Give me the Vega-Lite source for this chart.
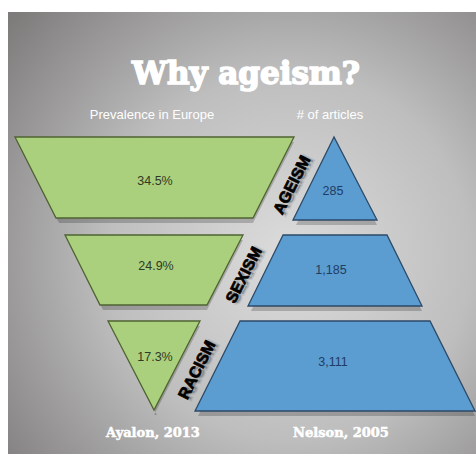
{
  "$schema": "https://vega.github.io/schema/vega-lite/v6.json",
  "width": 468,
  "height": 442,
  "padding": {"left": 8, "top": 12, "right": 0, "bottom": 0},
  "autosize": "none",
  "background": "white",
  "config": {"view": {"stroke": null}},
  "datasets": {
    "shapes": [
      {"shape": "Ageism prevalence", "panel": "Prevalence in Europe", "y": 137, "xl": 15, "xr": 294},
      {"shape": "Ageism prevalence", "panel": "Prevalence in Europe", "y": 218, "xl": 56, "xr": 253},
      {"shape": "Sexism prevalence", "panel": "Prevalence in Europe", "y": 235, "xl": 65, "xr": 243},
      {"shape": "Sexism prevalence", "panel": "Prevalence in Europe", "y": 305, "xl": 100, "xr": 207},
      {"shape": "Racism prevalence", "panel": "Prevalence in Europe", "y": 321, "xl": 108, "xr": 200},
      {"shape": "Racism prevalence", "panel": "Prevalence in Europe", "y": 410, "xl": 154, "xr": 154},
      {"shape": "Ageism articles", "panel": "# of articles", "y": 137, "xl": 334, "xr": 334},
      {"shape": "Ageism articles", "panel": "# of articles", "y": 220, "xl": 293, "xr": 377},
      {"shape": "Sexism articles", "panel": "# of articles", "y": 235, "xl": 283, "xr": 387},
      {"shape": "Sexism articles", "panel": "# of articles", "y": 306, "xl": 248, "xr": 422},
      {"shape": "Racism articles", "panel": "# of articles", "y": 321, "xl": 240, "xr": 430},
      {"shape": "Racism articles", "panel": "# of articles", "y": 411, "xl": 195, "xr": 475}
    ],
    "values": [
      {"panel": "Prevalence in Europe", "label": "34.5%", "x": 155, "y": 181},
      {"panel": "Prevalence in Europe", "label": "24.9%", "x": 156, "y": 266},
      {"panel": "Prevalence in Europe", "label": "17.3%", "x": 155, "y": 357},
      {"panel": "# of articles", "label": "285", "x": 333, "y": 191},
      {"panel": "# of articles", "label": "1,185", "x": 331, "y": 270},
      {"panel": "# of articles", "label": "3,111", "x": 333, "y": 362}
    ],
    "isms": [
      {"label": "AGEISM", "x": 292, "y": 185},
      {"label": "SEXISM", "x": 244, "y": 275},
      {"label": "RACISM", "x": 197, "y": 370}
    ],
    "headers": [
      {"label": "Prevalence in Europe", "x": 152, "y": 115},
      {"label": "# of articles", "x": 330, "y": 115}
    ],
    "sources": [
      {"label": "Ayalon, 2013", "x": 153, "y": 433},
      {"label": "Nelson, 2005", "x": 341, "y": 433}
    ],
    "title": [
      {"label": "Why ageism?", "x": 246, "y": 84}
    ]
  },
  "layer": [
    {
      "data": {"values": [{}]},
      "mark": {
        "type": "rect",
        "fill": {
          "gradient": "radial",
          "x1": 0.6, "y1": 0.55, "r1": 0,
          "x2": 0.6, "y2": 0.55, "r2": 0.78,
          "stops": [
            {"offset": 0, "color": "#dcdcdc"},
            {"offset": 0.5, "color": "#bebebe"},
            {"offset": 1, "color": "#7e7b7b"}
          ]
        }
      }
    },
    {
      "data": {"name": "shapes"},
      "mark": {"type": "area", "orient": "horizontal", "color": "#000", "opacity": 0.2, "xOffset": 3, "yOffset": 5},
      "encoding": {
        "y": {"field": "y", "type": "quantitative", "scale": {"domain": [12, 454], "reverse": true, "nice": false, "zero": false}, "axis": null},
        "x": {"field": "xl", "type": "quantitative", "scale": {"domain": [8, 476], "nice": false, "zero": false}, "axis": null},
        "x2": {"field": "xr"},
        "detail": {"field": "shape"}
      }
    },
    {
      "data": {"name": "shapes"},
      "mark": {"type": "area", "orient": "horizontal", "strokeWidth": 1.3, "fillOpacity": 1},
      "encoding": {
        "y": {"field": "y", "type": "quantitative", "scale": {"domain": [12, 454], "reverse": true, "nice": false, "zero": false}, "axis": null},
        "x": {"field": "xl", "type": "quantitative", "scale": {"domain": [8, 476], "nice": false, "zero": false}, "axis": null},
        "x2": {"field": "xr"},
        "detail": {"field": "shape"},
        "fill": {"field": "panel", "type": "nominal", "scale": {"domain": ["Prevalence in Europe", "# of articles"], "range": ["#aad07e", "#5b9cd1"]}, "legend": null},
        "stroke": {"field": "panel", "type": "nominal", "scale": {"domain": ["Prevalence in Europe", "# of articles"], "range": ["#4f6330", "#2c4a68"]}, "legend": null}
      }
    },
    {
      "data": {"name": "values"},
      "mark": {"type": "text", "font": "Liberation Sans", "fontSize": 12.5, "align": "center", "baseline": "middle"},
      "encoding": {
        "x": {"field": "x", "type": "quantitative", "scale": {"domain": [8, 476], "nice": false, "zero": false}, "axis": null},
        "y": {"field": "y", "type": "quantitative", "scale": {"domain": [12, 454], "reverse": true, "nice": false, "zero": false}, "axis": null},
        "text": {"field": "label"},
        "color": {"field": "panel", "type": "nominal", "scale": {"domain": ["Prevalence in Europe", "# of articles"], "range": ["#2f3a25", "#1f3d63"]}, "legend": null}
      }
    },
    {
      "data": {"name": "isms"},
      "mark": {"type": "text", "font": "Liberation Sans", "fontWeight": "bold", "fontSize": 16, "angle": 297, "align": "center", "baseline": "middle", "color": "#222", "opacity": 0.35, "stroke": "#222", "strokeWidth": 3, "strokeOpacity": 0.3, "dx": 1, "dy": 3},
      "encoding": {
        "x": {"field": "x", "type": "quantitative", "scale": {"domain": [8, 476], "nice": false, "zero": false}, "axis": null},
        "y": {"field": "y", "type": "quantitative", "scale": {"domain": [12, 454], "reverse": true, "nice": false, "zero": false}, "axis": null},
        "text": {"field": "label"}
      }
    },
    {
      "data": {"name": "isms"},
      "mark": {"type": "text", "font": "Liberation Sans", "fontWeight": "bold", "fontSize": 16, "angle": 297, "align": "center", "baseline": "middle", "color": "#000", "stroke": "#000", "strokeWidth": 0.7},
      "encoding": {
        "x": {"field": "x", "type": "quantitative", "scale": {"domain": [8, 476], "nice": false, "zero": false}, "axis": null},
        "y": {"field": "y", "type": "quantitative", "scale": {"domain": [12, 454], "reverse": true, "nice": false, "zero": false}, "axis": null},
        "text": {"field": "label"}
      }
    },
    {
      "data": {"name": "headers"},
      "mark": {"type": "text", "font": "Liberation Sans", "fontSize": 13, "align": "center", "baseline": "middle", "color": "#ffffff"},
      "encoding": {
        "x": {"field": "x", "type": "quantitative", "scale": {"domain": [8, 476], "nice": false, "zero": false}, "axis": null},
        "y": {"field": "y", "type": "quantitative", "scale": {"domain": [12, 454], "reverse": true, "nice": false, "zero": false}, "axis": null},
        "text": {"field": "label"}
      }
    },
    {
      "data": {"name": "sources"},
      "mark": {"type": "text", "font": "DejaVu Serif", "fontWeight": "bold", "fontSize": 13, "align": "center", "baseline": "middle", "color": "#ffffff", "stroke": "#ffffff", "strokeWidth": 0.5},
      "encoding": {
        "x": {"field": "x", "type": "quantitative", "scale": {"domain": [8, 476], "nice": false, "zero": false}, "axis": null},
        "y": {"field": "y", "type": "quantitative", "scale": {"domain": [12, 454], "reverse": true, "nice": false, "zero": false}, "axis": null},
        "text": {"field": "label"}
      }
    },
    {
      "data": {"name": "title"},
      "mark": {"type": "text", "font": "DejaVu Serif", "fontWeight": "bold", "fontSize": 31, "align": "center", "baseline": "alphabetic", "color": "#ffffff", "stroke": "#ffffff", "strokeWidth": 1.6},
      "encoding": {
        "x": {"field": "x", "type": "quantitative", "scale": {"domain": [8, 476], "nice": false, "zero": false}, "axis": null},
        "y": {"field": "y", "type": "quantitative", "scale": {"domain": [12, 454], "reverse": true, "nice": false, "zero": false}, "axis": null},
        "text": {"field": "label"}
      }
    }
  ]
}
